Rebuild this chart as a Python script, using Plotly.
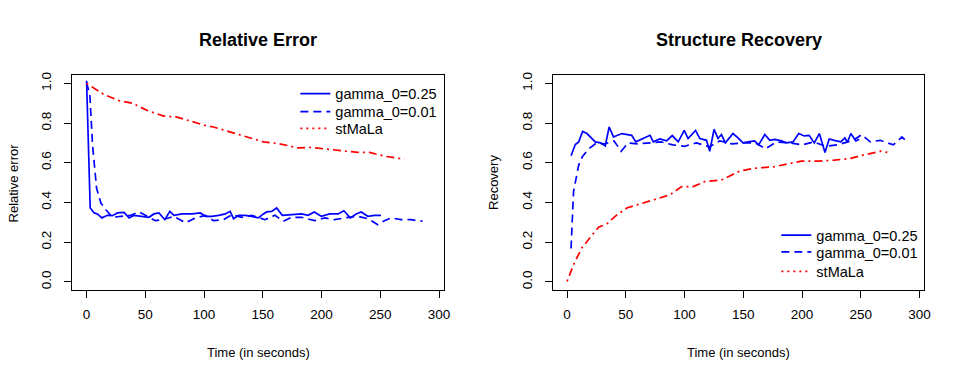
import plotly.graph_objects as go

# ---------------- data: Relative Error ----------------
err_g25_t = [0, 3.1, 6.5, 9.3, 13, 17.8, 22, 26.3, 31.9, 36.2, 40.4, 47.4, 53.1, 57.3, 61.6, 66.6,
             70.9, 74.3, 81.3, 89.8, 96.9, 101.1, 106.7, 112.4, 118, 122.2, 125.1, 129.3, 135,
             140.6, 146.2, 150.5, 153.3, 157.5, 161.7, 166.6, 171.6, 177.3, 182.9, 188.6, 193.7,
             199.8, 206.9, 214, 219, 224.4, 229.5, 233.7, 239.4, 245, 250.6]
err_g25_v = [1.013, 0.372, 0.347, 0.342, 0.322, 0.335, 0.333, 0.347, 0.35, 0.322, 0.335, 0.33,
             0.325, 0.342, 0.347, 0.313, 0.355, 0.335, 0.342, 0.342, 0.347, 0.33, 0.33, 0.335,
             0.342, 0.355, 0.318, 0.335, 0.335, 0.33, 0.322, 0.342, 0.352, 0.355, 0.372, 0.335,
             0.338, 0.338, 0.342, 0.335, 0.352, 0.33, 0.342, 0.342, 0.358, 0.322, 0.342, 0.352,
             0.33, 0.335, 0.335]

err_g01_t = [0, 2.8, 5.1, 8.5, 12.2, 16.4, 22, 29.1, 37.6, 44.6, 51.7, 58.7, 65.8, 74.3, 84.2,
             92.6, 101.1, 108.1, 116.6, 123.6, 132.1, 140.6, 151.8, 160.3, 167.4, 174.4, 182.9,
             194.2, 202.7, 211.1, 219.6, 230.9, 239.4, 247.9, 253.5, 259.2, 267.6, 276.1, 286]
err_g01_v = [1.005, 0.94, 0.688, 0.472, 0.397, 0.363, 0.325, 0.33, 0.335, 0.352, 0.33, 0.308,
             0.315, 0.33, 0.297, 0.322, 0.335, 0.308, 0.313, 0.338, 0.325, 0.335, 0.313, 0.335,
             0.305, 0.325, 0.325, 0.308, 0.322, 0.313, 0.322, 0.33, 0.318, 0.288, 0.308, 0.322,
             0.313, 0.313, 0.305]

err_st_t = [0, 15, 27.7, 39, 51.7, 65.8, 77, 89.8, 101, 108, 126.5, 139.2, 150.5, 163, 180, 191,
            205.5, 219.6, 231, 240.8, 253.5, 270.4]
err_st_v = [1.0, 0.943, 0.913, 0.9, 0.863, 0.835, 0.83, 0.808, 0.788, 0.78, 0.747, 0.725, 0.705,
            0.697, 0.675, 0.677, 0.667, 0.658, 0.652, 0.652, 0.633, 0.618]

# ---------------- data: Structure Recovery ----------------
rec_g25_t = [3.4, 7, 9.9, 13.2, 16.9, 24, 28.3, 32.5, 35.8, 39.5, 46.6, 55, 58.5, 65, 70.6, 73.4,
             79, 84.7, 89.5, 94.6, 99.7, 103, 109.3, 113, 118.7, 121.4, 125.1, 128.5, 131.4,
             134.7, 141.2, 145.5, 149.7, 154, 159.6, 163, 168.3, 172.5, 176.8, 182.4, 186.6,
             192.3, 197.1, 201.9, 206, 210.4, 214.7, 219.5, 223.1, 227.4, 233, 236.4, 238.6,
             241.5, 245.8, 248.6]
rec_g25_v = [0.635, 0.692, 0.705, 0.758, 0.747, 0.705, 0.70, 0.685, 0.78, 0.73, 0.747, 0.738,
             0.705, 0.722, 0.738, 0.705, 0.72, 0.71, 0.737, 0.705, 0.763, 0.722, 0.763, 0.722,
             0.713, 0.658, 0.768, 0.722, 0.742, 0.70, 0.747, 0.725, 0.70, 0.705, 0.71, 0.69,
             0.742, 0.713, 0.718, 0.71, 0.70, 0.705, 0.747, 0.735, 0.738, 0.70, 0.747, 0.652,
             0.72, 0.713, 0.705, 0.725, 0.703, 0.747, 0.71, 0.718]

rec_g01_t = [3.4, 5.5, 9.9, 13, 18.4, 25, 32, 40, 46, 52, 60, 70, 80, 90, 100, 110, 121, 130,
             140, 150, 160, 168.9, 178, 190, 200, 210, 220, 230, 243.7, 250.8, 258, 266.4,
             277.7, 285, 289.5]
rec_g01_v = [0.168, 0.455, 0.588, 0.63, 0.67, 0.70, 0.695, 0.71, 0.658, 0.70, 0.695, 0.70,
             0.705, 0.69, 0.683, 0.7, 0.68, 0.71, 0.695, 0.70, 0.70, 0.67, 0.705, 0.70, 0.69,
             0.705, 0.683, 0.69, 0.713, 0.742, 0.705, 0.713, 0.69, 0.73, 0.705]

rec_st_t = [0, 5.6, 12.7, 19.7, 26.8, 33.9, 40.9, 50.8, 57.9, 66.4, 76.3, 87.5, 97.5, 107.3,
            117.2, 131.4, 146.9, 159.6, 176.5, 187.8, 199.2, 213.3, 227.4, 241.5, 251.4, 266.9,
            272.5]
rec_st_v = [0.002, 0.088, 0.172, 0.222, 0.275, 0.292, 0.33, 0.372, 0.385, 0.397, 0.418, 0.438,
            0.48, 0.48, 0.505, 0.513, 0.558, 0.572, 0.58, 0.592, 0.608, 0.608, 0.613, 0.622,
            0.638, 0.658, 0.652]

series_names = ["gamma_0=0.25", "gamma_0=0.01", "stMaLa"]
x_ticks = [0, 50, 100, 150, 200, 250, 300]
y_ticks = [0.0, 0.2, 0.4, 0.6, 0.8, 1.0]
y_tick_text = ["0.0", "0.2", "0.4", "0.6", "0.8", "1.0"]

# ---------------- styling ----------------
W, H = 969, 381
FONT = "Liberation Sans, Arial, Helvetica, sans-serif"
BLUE = "#0000FF"
RED = "#FF0000"
DASHED = "8px,5px"
DOTDASH = "2px,4px,8px,4px"
DOTTED = "2px,4px"
LW = 1.7
LEG_SIZE = 14.5
TICK_SIZE = 13.5
LAB_SIZE = 13
TITLE_SIZE = 18

fig = go.Figure()

legend_layout = {}


def add_panel(xa, ya, legend_names, legend_x, row_y, g25, g01, st):
    fig.add_trace(go.Scatter(x=g25[0], y=g25[1], mode="lines", xaxis=xa, yaxis=ya,
                             line=dict(color=BLUE, width=LW), showlegend=False))
    fig.add_trace(go.Scatter(x=g01[0], y=g01[1], mode="lines", xaxis=xa, yaxis=ya,
                             line=dict(color=BLUE, width=LW, dash=DASHED), showlegend=False))
    fig.add_trace(go.Scatter(x=st[0], y=st[1], mode="lines", xaxis=xa, yaxis=ya,
                             line=dict(color=RED, width=LW, dash=DOTDASH), showlegend=False))
    # legend entries (as in the original, the legend key for stMaLa is dotted)
    styles = [dict(color=BLUE, width=LW), dict(color=BLUE, width=LW, dash=DASHED),
              dict(color=RED, width=LW, dash=DOTTED)]
    for name, st_, lg, ry in zip(series_names, styles, legend_names, row_y):
        fig.add_trace(go.Scatter(x=[None], y=[None], mode="lines", xaxis=xa, yaxis=ya,
                                 name=name, line=st_, showlegend=True, legend=lg))
        legend_layout[lg] = dict(x=legend_x / W, y=1 - ry / H, xanchor="left", yanchor="middle",
                                 bgcolor="rgba(0,0,0,0)", borderwidth=0,
                                 font=dict(family=FONT, size=LEG_SIZE, color="black"),
                                 itemwidth=30)


add_panel("x", "y", ["legend", "legend2", "legend3"], 297.5, [91.5, 109.5, 126.5],
          (err_g25_t, err_g25_v), (err_g01_t, err_g01_v), (err_st_t, err_st_v))
add_panel("x2", "y2", ["legend4", "legend5", "legend6"], 782, [234, 251, 270.5],
          (rec_g25_t, rec_g25_v), (rec_g01_t, rec_g01_v), (rec_st_t, rec_st_v))

TICK_FONT = dict(family=FONT, size=TICK_SIZE, color="black")


def xaxis(domain):
    return dict(domain=domain, range=[-12, 304], tickvals=x_ticks, ticks="outside", ticklen=7,
                tickcolor="black", showline=True, linecolor="black", linewidth=1, mirror=True,
                showgrid=False, zeroline=False, tickfont=TICK_FONT, ticklabelstandoff=5)


def yaxis(domain, anchor):
    return dict(domain=domain, anchor=anchor, range=[-0.04, 1.04], tickvals=y_ticks,
                ticktext=y_tick_text, tickangle=-90, ticks="outside", ticklen=7,
                tickcolor="black", showline=True, linecolor="black", linewidth=1, mirror=True,
                showgrid=False, zeroline=False, tickfont=TICK_FONT, ticklabelstandoff=8)


ydom = [1 - 289 / H, 1 - 73 / H]
fig.update_layout(
    width=W, height=H,
    margin=dict(l=0, r=0, t=0, b=0),
    paper_bgcolor="white", plot_bgcolor="white",
    font=dict(family=FONT, size=LAB_SIZE, color="black"),
    xaxis=xaxis([73 / W, 447 / W]),
    yaxis=yaxis(ydom, "x"),
    xaxis2=xaxis([557 / W, 931 / W]),
    yaxis2=yaxis(ydom, "x2"),
    showlegend=True,
    **legend_layout,
)

ann = []


def text(x, y, s, size=LAB_SIZE, bold=False, angle=0):
    ann.append(dict(x=x / W, y=1 - y / H, xref="paper", yref="paper",
                    text=f"<b>{s}</b>" if bold else s,
                    showarrow=False, font=dict(family=FONT, size=size, color="black"),
                    textangle=angle, xanchor="center", yanchor="middle"))


text(260, 37, "Relative Error", size=TITLE_SIZE, bold=True)
text(744, 37, "Structure Recovery", size=TITLE_SIZE, bold=True)
text(260, 352, "Time (in seconds)")
text(744, 352, "Time (in seconds)")
text(14, 181, "Relative error", angle=-90)
text(497, 181, "Recovery", angle=-90)
fig.update_layout(annotations=ann)

fig.write_html("out.html", config={"displayModeBar": False},
               post_script="document.body.style.margin='0px';")
